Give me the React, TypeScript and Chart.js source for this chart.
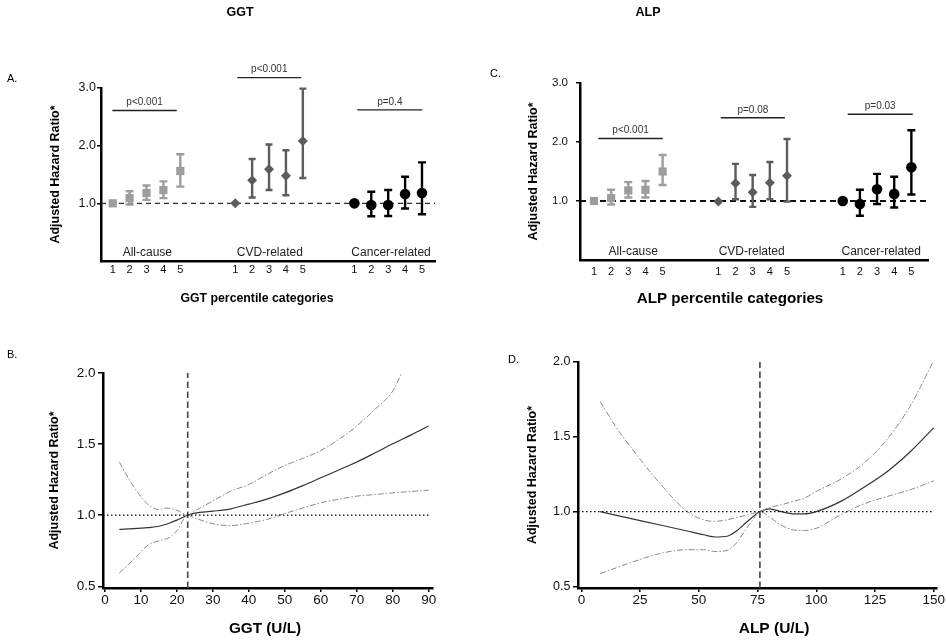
import React, { useEffect, useRef } from "react";
import { Chart, registerables } from "chart.js";

Chart.register(...registerables);

const FONT = "'Liberation Sans', Arial, Helvetica, sans-serif";

// ---------------- Panels A / C : percentile categories ----------------
const percentileLabels = ["1", "2", "3", "4", "5"];
const outcomeGroups = ["All-cause", "CVD-related", "Cancer-related"];
const hazardTicks = [1, 2, 3];

const ggtAllCauseHR = [1.0, 1.09, 1.18, 1.23, 1.56];
const ggtAllCauseLow = [1.0, 0.98, 1.06, 1.09, 1.29];
const ggtAllCauseHigh = [1.0, 1.21, 1.31, 1.38, 1.85];
const ggtCvdHR = [1.0, 1.4, 1.59, 1.48, 2.08];
const ggtCvdLow = [1.0, 1.1, 1.23, 1.14, 1.44];
const ggtCvdHigh = [1.0, 1.77, 2.02, 1.92, 2.99];
const ggtCancerHR = [1.0, 0.97, 0.97, 1.16, 1.18];
const ggtCancerLow = [1.0, 0.775, 0.78, 0.91, 0.81];
const ggtCancerHigh = [1.0, 1.2, 1.23, 1.46, 1.71];
const ggtTrendP = ["p<0.001", "p<0.001", "p=0.4"];

const alpAllCauseHR = [1.0, 1.05, 1.18, 1.19, 1.5];
const alpAllCauseLow = [1.0, 0.94, 1.06, 1.06, 1.27];
const alpAllCauseHigh = [1.0, 1.19, 1.32, 1.34, 1.78];
const alpCvdHR = [0.99, 1.3, 1.15, 1.31, 1.43];
const alpCvdLow = [0.99, 1.03, 0.9, 1.03, 0.99];
const alpCvdHigh = [0.99, 1.63, 1.44, 1.66, 2.05];
const alpCancerHR = [1.0, 0.95, 1.2, 1.12, 1.57];
const alpCancerLow = [1.0, 0.75, 0.95, 0.89, 1.11];
const alpCancerHigh = [1.0, 1.19, 1.46, 1.41, 2.2];
const alpTrendP = ["p<0.001", "p=0.08", "p=0.03"];

// ---------------- Panels B / D : spline curves ----------------
const splineTicksY = [0.5, 1.0, 1.5, 2.0];

const ggtTicksX = [0, 10, 20, 30, 40, 50, 60, 70, 80, 90];
const ggtReferenceValue = 23;
const ggtCurveX = [4, 8, 12, 15, 18, 20, 23, 25, 30, 35, 40, 45, 50, 55, 60, 65, 70, 75, 80, 85, 90];
const ggtCurveHR = [0.9, 0.905, 0.913, 0.922, 0.945, 0.965, 1.0, 1.015, 1.028, 1.045, 1.078, 1.113, 1.157, 1.208, 1.263, 1.318, 1.374, 1.437, 1.502, 1.563, 1.627];
const ggtLowerCI = [0.594, 0.69, 0.79, 0.82, 0.845, 0.89, 1.0, 0.98, 0.94, 0.927, 0.944, 0.97, 1.012, 1.05, 1.087, 1.112, 1.134, 1.145, 1.157, 1.167, 1.176];
const ggtUpperX = [4, 8, 12, 15, 17, 20, 23, 25, 30, 35, 40, 45, 50, 55, 60, 65, 70, 75, 80, 82.5];
const ggtUpperCI = [1.373, 1.2, 1.075, 1.04, 1.05, 1.035, 1.0, 1.03, 1.1, 1.169, 1.216, 1.286, 1.35, 1.4, 1.455, 1.533, 1.627, 1.744, 1.873, 2.0];

const alpTicksX = [0, 25, 50, 75, 100, 125, 150];
const alpReferenceValue = 76;
const alpCurveX = [8, 15, 25, 35, 45, 52, 57, 62, 66, 70, 73, 76, 80, 85, 90, 95, 100, 110, 120, 130, 140, 150];
const alpCurveHR = [1.0, 0.975, 0.94, 0.905, 0.87, 0.845, 0.83, 0.835, 0.87, 0.925, 0.965, 1.0, 1.018, 1.0, 0.985, 0.985, 1.0, 1.065, 1.16, 1.265, 1.4, 1.56];
const alpUpperCI = [1.735, 1.56, 1.35, 1.16, 1.0, 0.945, 0.935, 0.945, 0.96, 0.975, 0.988, 1.0, 1.027, 1.045, 1.067, 1.09, 1.135, 1.213, 1.32, 1.48, 1.706, 2.01];
const alpLowerCI = [0.585, 0.625, 0.68, 0.725, 0.745, 0.745, 0.733, 0.74, 0.79, 0.88, 0.945, 1.0, 0.965, 0.91, 0.878, 0.873, 0.888, 0.975, 1.05, 1.1, 1.146, 1.206];

const yAxisTitle = "Adjusted Hazard Ratio*";

// ---------------- styles / layout ----------------
const groupStyles = [
  { color: "#9d9d9d", pointStyle: "rect", radius: 5.8, cap: 4 },
  { color: "#5c5c5c", pointStyle: "rectRot", radius: 5, cap: 3.5 },
  { color: "#000000", pointStyle: "circle", radius: 5.3, cap: 4 },
];

const errorBarPlugin = {
  id: "errorBars",
  afterDatasetsDraw(chart: any) {
    const { ctx } = chart;
    const xs = chart.scales.x;
    const ys = chart.scales.y;
    chart.data.datasets.forEach((ds: any) => {
      if (!ds.errorLow) return;
      ctx.save();
      ctx.strokeStyle = ds.backgroundColor;
      ctx.lineWidth = 2.4;
      ds.data.forEach((pt: any, j: number) => {
        const lo = ds.errorLow[j];
        const hi = ds.errorHigh[j];
        if (hi - lo < 0.02) return;
        const px = xs.getPixelForValue(pt.x);
        const yl = ys.getPixelForValue(lo);
        const yh = ys.getPixelForValue(hi);
        const c = ds.errorCap;
        ctx.beginPath();
        ctx.moveTo(px, yl);
        ctx.lineTo(px, yh);
        ctx.moveTo(px - c, yl);
        ctx.lineTo(px + c, yl);
        ctx.moveTo(px - c, yh);
        ctx.lineTo(px + c, yh);
        ctx.stroke();
      });
      ctx.restore();
    });
  },
};

function drawTexts(ctx: any, texts: any[]) {
  texts.forEach((t) => {
    ctx.font = `${t.bold ? "bold " : ""}${t.size}px ${FONT}`;
    ctx.fillStyle = t.color || "#000";
    ctx.textAlign = t.align || "center";
    ctx.textBaseline = "middle";
    ctx.fillText(t.text, t.x, t.y);
  });
}

function categoricalConfig(spec: any) {
  const { groups, pValues, layout, texts } = spec;
  const { canvas, area } = layout;
  const allTicks: number[] = [];
  layout.groupStarts.forEach((s: number) => percentileLabels.forEach((_, i) => allTicks.push(s + i)));

  const datasets: any[] = [
    {
      label: "reference",
      data: [
        { x: layout.xMin, y: 1 },
        { x: layout.xMax, y: 1 },
      ],
      showLine: true,
      borderColor: layout.refColor,
      borderWidth: layout.refWidth,
      borderDash: layout.refDash,
      pointRadius: 0,
      order: 10,
    },
  ];
  groups.forEach((grp: any, g: number) => {
    const st = groupStyles[g];
    datasets.push({
      label: outcomeGroups[g],
      data: grp.hr.map((v: number, i: number) => ({ x: layout.groupStarts[g] + i, y: v })),
      errorLow: grp.low,
      errorHigh: grp.high,
      errorCap: st.cap,
      pointStyle: st.pointStyle,
      pointRadius: st.radius,
      backgroundColor: st.color,
      borderColor: st.color,
      borderWidth: 0,
      showLine: false,
      order: 1,
    });
  });

  const decor = {
    id: "decor",
    afterDraw(chart: any) {
      const { ctx, chartArea } = chart;
      const xs = chart.scales.x;
      const ys = chart.scales.y;
      ctx.save();
      outcomeGroups.forEach((name, g) => {
        drawTexts(ctx, [
          {
            text: name,
            x: xs.getPixelForValue(layout.groupStarts[g] + 2 + layout.labelShift[g]),
            y: chartArea.bottom - 8.5,
            size: 12,
            color: "#222",
          },
        ]);
      });
      pValues.forEach((p: string, g: number) => {
        const yy = ys.getPixelForValue(layout.pLevels[g]);
        const x1 = xs.getPixelForValue(layout.groupStarts[g] + layout.pSpans[g][0]);
        const x2 = xs.getPixelForValue(layout.groupStarts[g] + layout.pSpans[g][1]);
        ctx.strokeStyle = "#222";
        ctx.lineWidth = 1.4;
        ctx.beginPath();
        ctx.moveTo(x1, yy);
        ctx.lineTo(x2, yy);
        ctx.stroke();
        drawTexts(ctx, [{ text: p, x: (x1 + x2) / 2, y: yy - 8, size: 10, color: "#333" }]);
      });
      drawTexts(ctx, texts);
      ctx.restore();
    },
  };

  return {
    type: "scatter",
    data: { datasets },
    plugins: [errorBarPlugin, decor],
    options: {
      responsive: false,
      animation: false,
      events: [],
      layout: { padding: { left: 0, top: area.top, right: canvas.width - area.right, bottom: 0 } },
      plugins: { legend: { display: false }, tooltip: { enabled: false }, title: { display: false } },
      scales: {
        x: {
          type: "linear",
          bounds: "data",
          min: layout.xMin,
          max: layout.xMax,
          afterBuildTicks: (s: any) => {
            s.ticks = allTicks.map((v) => ({ value: v }));
          },
          afterFit: (s: any) => {
            s.height = canvas.height - area.bottom;
          },
          ticks: {
            autoSkip: false,
            maxRotation: 0,
            minRotation: 0,
            padding: layout.xTickPad,
            color: "#111",
            font: { family: FONT, size: 11 },
            callback: (_v: any, i: number) => percentileLabels[i % percentileLabels.length],
          },
          grid: { display: false, drawTicks: true, tickLength: 2 },
          border: { display: true, color: "#000", width: 2.5 },
        },
        y: {
          type: "linear",
          bounds: "data",
          min: 0,
          max: 3,
          afterBuildTicks: (s: any) => {
            s.ticks = hazardTicks.map((v) => ({ value: v }));
          },
          afterFit: (s: any) => {
            s.width = area.left;
          },
          ticks: {
            padding: layout.yTickPad,
            color: "#111",
            font: { family: FONT, size: layout.yTickSize },
            callback: (v: any) => Number(v).toFixed(1),
          },
          grid: { display: true, drawOnChartArea: false, drawTicks: true, tickLength: 4, color: "#000", lineWidth: 1.5 },
          border: { display: true, color: "#000", width: 2.5 },
          title: {
            display: true,
            text: yAxisTitle,
            color: "#000",
            font: { family: FONT, size: 12.5, weight: "bold" },
            padding: { top: layout.yTitlePad, bottom: 0 },
          },
        },
      },
    },
  };
}

function splineConfig(spec: any) {
  const { curve, layout, texts } = spec;
  const { canvas, area } = layout;
  const pts = (xs: number[], ys: number[]) => xs.map((x, i) => ({ x, y: ys[i] }));
  const yTop = splineTicksY[splineTicksY.length - 1];
  const datasets: any[] = [
    {
      label: "HR = 1",
      data: [
        { x: layout.xMin, y: 1 },
        { x: curve.ticksX[curve.ticksX.length - 1], y: 1 },
      ],
      showLine: true,
      borderColor: "#000",
      borderWidth: 1.3,
      borderDash: [1.5, 2.5],
      pointRadius: 0,
    },
    {
      label: "reference",
      data: [
        { x: curve.reference, y: layout.yMin },
        { x: curve.reference, y: yTop },
      ],
      showLine: true,
      borderColor: "#444",
      borderWidth: 1.6,
      borderDash: [6.5, 3.5],
      pointRadius: 0,
    },
    {
      label: "upper",
      data: pts(curve.upperX, curve.upper),
      showLine: true,
      borderColor: "#8a8a8a",
      borderWidth: 1,
      borderDash: [6, 2, 1.5, 2],
      pointRadius: 0,
      cubicInterpolationMode: "monotone",
    },
    {
      label: "lower",
      data: pts(curve.x, curve.lower),
      showLine: true,
      borderColor: "#8a8a8a",
      borderWidth: 1,
      borderDash: [6, 2, 1.5, 2],
      pointRadius: 0,
      cubicInterpolationMode: "monotone",
    },
    {
      label: "HR",
      data: pts(curve.x, curve.hr),
      showLine: true,
      borderColor: "#333",
      borderWidth: 1.2,
      pointRadius: 0,
      cubicInterpolationMode: "monotone",
    },
  ];
  const decor = {
    id: "decor",
    afterDraw(chart: any) {
      const { ctx } = chart;
      ctx.save();
      drawTexts(ctx, texts);
      ctx.restore();
    },
  };
  return {
    type: "scatter",
    data: { datasets },
    plugins: [decor],
    options: {
      responsive: false,
      animation: false,
      events: [],
      layout: { padding: { left: 0, top: area.top, right: canvas.width - area.right, bottom: 0 } },
      plugins: { legend: { display: false }, tooltip: { enabled: false }, title: { display: false } },
      scales: {
        x: {
          type: "linear",
          bounds: "data",
          min: layout.xMin,
          max: layout.xMax,
          afterBuildTicks: (s: any) => {
            s.ticks = curve.ticksX.map((v: number) => ({ value: v }));
          },
          afterFit: (s: any) => {
            s.height = canvas.height - area.bottom;
          },
          ticks: {
            autoSkip: false,
            maxRotation: 0,
            minRotation: 0,
            padding: 0,
            color: "#111",
            font: { family: FONT, size: 13.5 },
            callback: (v: any) => String(v),
          },
          grid: { display: true, drawOnChartArea: false, drawTicks: true, tickLength: 4, color: "#000", lineWidth: 1.5 },
          border: { display: true, color: "#000", width: 2.5 },
        },
        y: {
          type: "linear",
          bounds: "data",
          min: layout.yMin,
          max: yTop,
          afterBuildTicks: (s: any) => {
            s.ticks = splineTicksY.map((v) => ({ value: v }));
          },
          afterFit: (s: any) => {
            s.width = area.left;
          },
          ticks: {
            padding: 2.5,
            color: "#111",
            font: { family: FONT, size: layout.yTickSize },
            callback: (v: any) => Number(v).toFixed(1),
          },
          grid: { display: true, drawOnChartArea: false, drawTicks: true, tickLength: 5, color: "#000", lineWidth: 1.5 },
          border: { display: true, color: "#000", width: 2.5 },
          title: {
            display: true,
            text: yAxisTitle,
            color: "#000",
            font: { family: FONT, size: 12.5, weight: "bold" },
            padding: { top: layout.yTitlePad, bottom: 0 },
          },
        },
      },
    },
  };
}

const panelA = {
  box: { left: 0, top: 0, width: 470, height: 315 },
  build: () =>
    categoricalConfig({
      groups: [
        { hr: ggtAllCauseHR, low: ggtAllCauseLow, high: ggtAllCauseHigh },
        { hr: ggtCvdHR, low: ggtCvdLow, high: ggtCvdHigh },
        { hr: ggtCancerHR, low: ggtCancerLow, high: ggtCancerHigh },
      ],
      pValues: ggtTrendP,
      texts: [
        { text: "GGT", x: 240, y: 13, size: 12.5, bold: true },
        { text: "A.", x: 7, y: 79, size: 11, align: "left" },
        { text: "GGT percentile categories", x: 257, y: 299, size: 12.3, bold: true },
      ],
      layout: {
        canvas: { width: 470, height: 315 },
        area: { left: 101, top: 88, right: 435, bottom: 261 },
        xMin: 0.308,
        xMax: 20.07,
        groupStarts: [1, 8.25, 15.3],
        labelShift: [0.05, 0.05, 0.17],
        pLevels: [2.61, 3.18, 2.62],
        pSpans: [
          [-0.02, 3.79],
          [0.12, 3.91],
          [0.17, 4.02],
        ],
        refColor: "#333",
        refWidth: 1.4,
        refDash: [5, 4],
        xTickPad: 0,
        yTickPad: 1,
        yTickSize: 12.5,
        yTitlePad: 48.5,
      },
    }),
};

const panelC = {
  box: { left: 470, top: 0, width: 476, height: 315 },
  build: () =>
    categoricalConfig({
      groups: [
        { hr: alpAllCauseHR, low: alpAllCauseLow, high: alpAllCauseHigh },
        { hr: alpCvdHR, low: alpCvdLow, high: alpCvdHigh },
        { hr: alpCancerHR, low: alpCancerLow, high: alpCancerHigh },
      ],
      pValues: alpTrendP,
      texts: [
        { text: "ALP", x: 178, y: 13, size: 12.5, bold: true },
        { text: "C.", x: 20, y: 74, size: 11, align: "left" },
        { text: "ALP percentile categories", x: 260, y: 299, size: 15.2, bold: true },
      ],
      layout: {
        canvas: { width: 476, height: 315 },
        area: { left: 110, top: 83, right: 458, bottom: 260 },
        xMin: 0.184,
        xMax: 20.47,
        groupStarts: [1, 8.25, 15.5],
        labelShift: [0.29, -0.06, 0.24],
        pLevels: [2.06, 2.41, 2.47],
        pSpans: [
          [0.25, 4.01],
          [0.14, 3.88],
          [0.29, 4.08],
        ],
        refColor: "#111",
        refWidth: 2,
        refDash: [6, 4],
        xTickPad: 3.5,
        yTickPad: 8,
        yTickSize: 11.5,
        yTitlePad: 56.5,
      },
    }),
};

const panelB = {
  box: { left: 0, top: 315, width: 470, height: 326 },
  build: () =>
    splineConfig({
      curve: {
        x: ggtCurveX,
        hr: ggtCurveHR,
        lower: ggtLowerCI,
        upperX: ggtUpperX,
        upper: ggtUpperCI,
        ticksX: ggtTicksX,
        reference: ggtReferenceValue,
      },
      texts: [
        { text: "B.", x: 7, y: 40, size: 11, align: "left" },
        { text: "GGT (U/L)", x: 265, y: 314, size: 15.3, bold: true },
      ],
      layout: {
        canvas: { width: 470, height: 326 },
        area: { left: 103, top: 58, right: 433, bottom: 273 },
        xMin: -0.55,
        xMax: 91.2,
        yMin: 0.488,
        yTickSize: 13.5,
        yTitlePad: 47.5,
      },
    }),
};

const panelD = {
  box: { left: 470, top: 315, width: 476, height: 326 },
  build: () =>
    splineConfig({
      curve: {
        x: alpCurveX,
        hr: alpCurveHR,
        lower: alpLowerCI,
        upperX: alpCurveX,
        upper: alpUpperCI,
        ticksX: alpTicksX,
        reference: alpReferenceValue,
      },
      texts: [
        { text: "D.", x: 38, y: 45, size: 11, align: "left" },
        { text: "ALP (U/L)", x: 304, y: 314, size: 15.5, bold: true },
      ],
      layout: {
        canvas: { width: 476, height: 326 },
        area: { left: 108, top: 47, right: 467, bottom: 273 },
        xMin: -1.45,
        xMax: 151.4,
        yMin: 0.489,
        yTickSize: 12.5,
        yTitlePad: 55.5,
      },
    }),
};

function ChartPanel({ panel }: { panel: any }) {
  const ref = useRef<HTMLCanvasElement | null>(null);
  useEffect(() => {
    if (!ref.current) return;
    const chart = new Chart(ref.current, panel.build());
    return () => chart.destroy();
  }, [panel]);
  const { left, top, width, height } = panel.box;
  return (
    <canvas
      ref={ref}
      width={width}
      height={height}
      style={{ position: "absolute", left, top, width, height, display: "block" }}
    />
  );
}

export default function App() {
  return (
    <div style={{ position: "absolute", left: 0, top: 0, width: 946, height: 641, background: "#fff", overflow: "hidden" }}>
      <ChartPanel panel={panelA} />
      <ChartPanel panel={panelC} />
      <ChartPanel panel={panelB} />
      <ChartPanel panel={panelD} />
    </div>
  );
}
